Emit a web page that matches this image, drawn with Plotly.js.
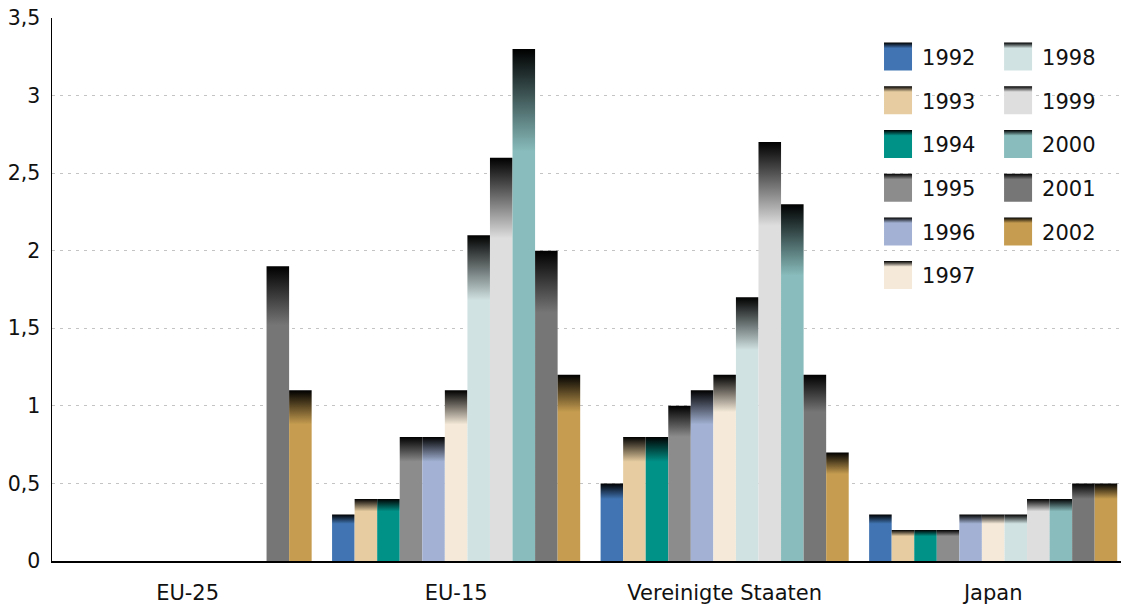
<!DOCTYPE html>
<html>
<head>
<meta charset="utf-8">
<script src="https://cdn.plot.ly/plotly-3.0.1.min.js"></script>
<style>html,body{margin:0;padding:0;background:#fff;}#chart{width:1121px;height:604px;}</style>
</head>
<body>
<div id="chart"></div>
<script>
const categories = ['EU-25', 'EU-15', 'Vereinigte Staaten', 'Japan'];
const years = ['1992','1993','1994','1995','1996','1997','1998','1999','2000','2001','2002'];
const colors = ['#4074b2','#e6cca0','#009187','#8c8c8c','#a3b2d4','#f5ead9','#d1e2e2','#dedede','#89bcbc','#767676','#c69d50'];

const v1992 = [null, 0.3, 0.5, 0.3];
const v1993 = [null, 0.4, 0.8, 0.2];
const v1994 = [null, 0.4, 0.8, 0.2];
const v1995 = [null, 0.8, 1.0, 0.2];
const v1996 = [null, 0.8, 1.1, 0.3];
const v1997 = [null, 1.1, 1.2, 0.3];
const v1998 = [null, 2.1, 1.7, 0.3];
const v1999 = [null, 2.6, 2.7, 0.4];
const v2000 = [null, 3.3, 2.3, 0.4];
const v2001 = [1.9, 2.0, 1.2, 0.5];
const v2002 = [1.1, 1.2, 0.7, 0.5];
const values = [v1992, v1993, v1994, v1995, v1996, v1997, v1998, v1999, v2000, v2001, v2002];

const FONT = 'DejaVu Sans, Verdana, sans-serif';

const data = years.map((yr, i) => ({
  type: 'bar',
  name: yr,
  x: categories,
  y: values[i],
  marker: {color: colors[i], line: {width: 0}},
  legend: i < 6 ? 'legend' : 'legend2',
  legendgroup: 'g' + yr,
  hoverinfo: 'skip'
}));

const legendCommon = {
  xanchor: 'left', yanchor: 'top',
  bgcolor: 'rgba(0,0,0,0)',
  font: {family: FONT, size: 21, color: '#111'},
  tracegroupgap: 13.4,
  itemwidth: 34
};

const layout = {
  width: 1121, height: 604,
  margin: {l: 52, r: 0, t: 18, b: 43},
  paper_bgcolor: '#fff', plot_bgcolor: '#fff',
  separators: ', ',
  barmode: 'group',
  bargap: 0.076,
  bargroupgap: 0,
  font: {family: FONT, size: 20, color: '#111'},
  xaxis: {
    type: 'category',
    range: [-0.505, 3.476],
    showline: true, linecolor: '#000', linewidth: 1.5,
    ticks: '', showgrid: false, zeroline: false,
    tickfont: {family: FONT, size: 21, color: '#111'},
    ticklabelstandoff: 12,
    fixedrange: true
  },
  yaxis: {
    range: [0, 3.5], dtick: 0.5, tick0: 0,
    showline: true, linecolor: '#000', linewidth: 1.5,
    ticks: '', zeroline: false,
    showgrid: true, gridcolor: '#c4c4c4', gridwidth: 1, griddash: '3px,5px',
    tickfont: {family: FONT, size: 20.5, color: '#111'},
    ticklabelstandoff: 6,
    fixedrange: true
  },
  legend: Object.assign({x: 0.7727, y: 0.966}, legendCommon),
  legend2: Object.assign({x: 0.885, y: 0.966}, legendCommon),
  showlegend: true
};

function applyGradients(gd) {
  const svg = gd.querySelector('svg.main-svg');
  const ns = 'http://www.w3.org/2000/svg';
  let defs = svg.querySelector('defs');
  if (!defs) { defs = document.createElementNS(ns, 'defs'); svg.insertBefore(defs, svg.firstChild); }
  colors.forEach((c, i) => {
    const g = document.createElementNS(ns, 'linearGradient');
    g.setAttribute('id', 'bargrad' + i);
    g.setAttribute('x1', '0'); g.setAttribute('y1', '0');
    g.setAttribute('x2', '0'); g.setAttribute('y2', '1');
    const s0 = document.createElementNS(ns, 'stop');
    s0.setAttribute('offset', '0'); s0.setAttribute('stop-color', '#000');
    const s1 = document.createElementNS(ns, 'stop');
    s1.setAttribute('offset', '0.2'); s1.setAttribute('stop-color', c);
    const s2 = document.createElementNS(ns, 'stop');
    s2.setAttribute('offset', '1'); s2.setAttribute('stop-color', c);
    g.appendChild(s0); g.appendChild(s1); g.appendChild(s2);
    defs.appendChild(g);
  });
  gd.querySelectorAll('.barlayer .trace').forEach((t) => {
    const d = t.__data__;
    const idx = d && d[0] && d[0].trace ? d[0].trace.index : null;
    if (idx === null) return;
    t.querySelectorAll('path').forEach(p => { p.style.fill = 'url(#bargrad' + idx + ')'; });
  });
  gd.querySelectorAll('.infolayer g.traces').forEach((t) => {
    const d = t.__data__;
    const idx = d && d[0] && d[0].trace ? d[0].trace.index : null;
    if (idx === null) return;
    t.querySelectorAll('path.legendbar, .legendpoints path').forEach(p => {
      p.setAttribute('d', 'M-16,-14H12V14H-16Z');
      p.style.fill = 'url(#bargrad' + idx + ')';
      p.style.strokeWidth = '0';
    });
  });
}

const gd = document.getElementById('chart');
Plotly.newPlot(gd, data, layout, {displayModeBar: false, staticPlot: true}).then(() => applyGradients(gd));
</script>
</body>
</html>
